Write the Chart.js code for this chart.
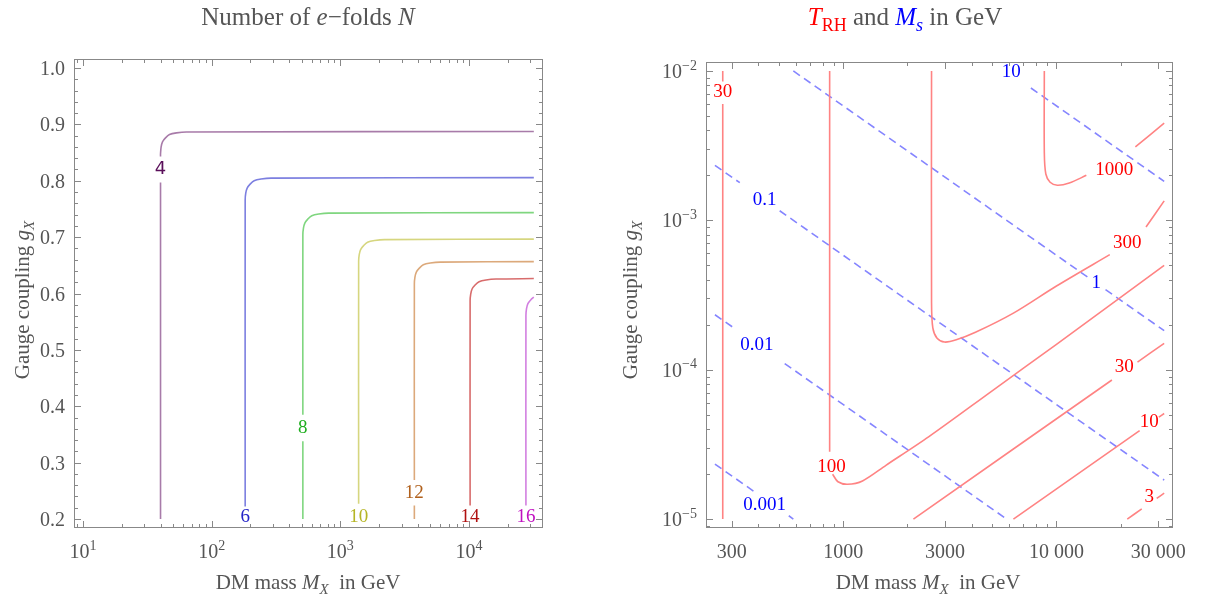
<!DOCTYPE html>
<html>
<head>
<meta charset="utf-8">
<script src="https://cdn.jsdelivr.net/npm/chart.js@4.4.1/dist/chart.umd.min.js"></script>
<style>
    body { margin: 0; background: #fff; width: 1205px; height: 603px; overflow: hidden; position: relative; }
    canvas { position: absolute; top: 0; }
    #leftChart { left: 0; }
    #rightChart { left: 600px; }
</style>
</head>
<body>
<canvas id="leftChart" width="600" height="603"></canvas>
<canvas id="rightChart" width="605" height="603"></canvas>
<script>
// ---- left panel: number of e-folds N (M_X in GeV, g_X) ----
const nLevels = ["4", "6", "8", "10", "12", "14", "16"];
const n4 = [[40, 0.2], [40, 0.797], null, [40, 0.843], [40, 0.848], [40.43, 0.860], [41.44, 0.869], [43.72, 0.876], [46.96, 0.882], [53.2, 0.885], [63.6, 0.8866], [31900, 0.8875]];
const n6 = [[182, 0.222], [182, 0.766], [183.9, 0.778], [188.6, 0.787], [198.9, 0.794], [213.7, 0.800], [242.1, 0.803], [289.2, 0.8046], [31900, 0.8055]];
const n8 = [[511, 0.2], [511, 0.338], null, [511, 0.385], [511, 0.704], [516.5, 0.716], [529.4, 0.725], [558.5, 0.732], [599.9, 0.738], [679.6, 0.741], [812, 0.7426], [31900, 0.7435]];
const n10 = [[1387, 0.227], [1387, 0.657], [1401.8, 0.669], [1437, 0.678], [1516, 0.685], [1628, 0.691], [1845, 0.694], [2204, 0.6956], [31900, 0.6965]];
const n12 = [[3760, 0.2], [3760, 0.224], null, [3760, 0.269], [3760, 0.617], [3800, 0.629], [3895, 0.638], [4110, 0.645], [4414, 0.651], [5001, 0.654], [5975, 0.6556], [31900, 0.6565]];
const n14 = [[10200, 0.224], [10200, 0.587], [10309, 0.599], [10567, 0.608], [11149, 0.615], [11975, 0.621], [13566, 0.624], [16208, 0.6256], [31900, 0.6265]];
const n16 = [[27700, 0.224], [27700, 0.561], [27996, 0.573], [28697, 0.582], [30276, 0.589], [31900, 0.5935]];
const nSeries = [n4, n6, n8, n10, n12, n14, n16];
const nLineColors = ["#a87ba9", "#7c7fe0", "#7fd67f", "#d6d67f", "#dca97b", "#d86c6c", "#d27fe0"];
const nLabelColors = ["#5a0f5a", "#2424c8", "#1fae1f", "#b5b525", "#b0601c", "#b01010", "#c010c0"];
const nLabelPos = [[40, 0.821], [182, 0.203], [511, 0.361], [1387, 0.204], [3760, 0.246], [10200, 0.204], [27700, 0.204]];

const leftXTicks = [10, 100, 1000, 10000];
const leftXTickExp = ["1", "2", "3", "4"];
const leftYTicks = [0.2, 0.3, 0.4, 0.5, 0.6, 0.7, 0.8, 0.9, 1.0];
const leftYTickLabels = ["0.2", "0.3", "0.4", "0.5", "0.6", "0.7", "0.8", "0.9", "1.0"];

// ---- right panel: T_RH (red) and M_s (blue dashed) ----
const tLevels = ["30", "100", "300", "1000", "30", "10", "3"];
const t30a = [[272, 1e-2], [272, 8.5e-3], null, [272, 6.0e-3], [272, 1e-5]];
const t100 = [[863, 1e-2], [863, 2.818e-5], null, [891, 1.995e-5], [944, 1.778e-5], [1047, 1.71e-5], [1230, 1.80e-5], [1585, 2.29e-5], [2512, 3.548e-5], [5012, 7.244e-5], [10000, 1.479e-4], [32000, 5.0e-4]];
const t300 = [[2594, 1e-2], [2594, 2.818e-4], [2630, 1.905e-4], [2754, 1.622e-4], [2985, 1.531e-4], [3388, 1.585e-4], [4169, 1.778e-4], [6310, 2.399e-4], [10000, 3.631e-4], [17783, 5.888e-4], null, [26300, 9.016e-4], [32000, 1.349e-3]];
const t1000 = [[8770, 1e-2], [8770, 2.818e-3], [8913, 2.042e-3], [9333, 1.799e-3], [10093, 1.718e-3], [11482, 1.778e-3], [13804, 2.0e-3], null, [23442, 3.1e-3], [32000, 4.467e-3]];
const t30b = [[2133, 1e-5], [18197, 8.53e-5], null, [23988, 1.125e-4], [32000, 1.5e-4]];
const t10 = [[6281, 1e-5], [24547, 3.908e-5], null, [30200, 4.808e-5], [32000, 5.09e-5]];
const t3 = [[21478, 1e-5], [25119, 1.169e-5], null, [29512, 1.374e-5], [32000, 1.489e-5]];
const tSeries = [t30a, t100, t300, t1000, t30b, t10, t3];
const tLabelPos = [[272, 7.2e-3], [881, 2.23e-5], [21500, 7.03e-4], [18660, 2.16e-3], [20800, 1.04e-4], [27230, 4.45e-5], [27230, 1.41e-5]];

const msLevels = ["10", "1", "0.1", "0.01", "0.001"];
const ms10 = [[7586, 7.69e-3], [32000, 1.824e-3]];
const ms1 = [[583, 1e-2], [14125, 4.13e-4], null, [16982, 3.436e-4], [32000, 1.824e-4]];
const ms01 = [[250, 2.333e-3], [327, 1.786e-3], null, [503, 1.159e-3], [32000, 1.824e-5]];
const ms001 = [[250, 2.333e-4], [310, 1.884e-4], null, [531, 1.099e-4], [5834, 1e-5]];
const ms0001 = [[250, 2.333e-5], [380, 1.535e-5], null, [555, 1.052e-5], [583, 1e-5]];
const msSeries = [ms10, ms1, ms01, ms001, ms0001];
const msLabelPos = [[6140, 9.8e-3], [15380, 3.8e-4], [428, 1.36e-3], [393, 1.46e-4], [428, 1.24e-5]];

const rightXTicks = [300, 1000, 3000, 10000, 30000];
const rightXTickLabels = ["300", "1000", "3000", "10 000", "30 000"];
const rightYTicks = [1e-2, 1e-3, 1e-4, 1e-5];
const rightYTickExp = ["\u22122", "\u22123", "\u22124", "\u22125"];

const SERIF = '"Liberation Serif", "Times New Roman", serif';
const TEXT = "#555";
const FRAME = "#888";

function toPoints(arr) {
    return arr.map(p => p ? { x: p[0], y: p[1] } : { x: NaN, y: NaN });
}

function logMinors(lo, hi) {
    const out = [];
    for (let d = Math.pow(10, Math.floor(Math.log10(lo))); d < hi; d *= 10) {
        for (let k = 1; k < 10; k++) {
            const v = k * d;
            if (v >= lo && v <= hi) out.push(v);
        }
    }
    return out;
}

function drawRich(ctx, parts, x, y, size, align, color) {
    const fontOf = p => (p.i ? "italic " : "") + Math.round(p.sub || p.sup ? size * 0.7 : size) + "px " + SERIF;
    let w = 0;
    parts.forEach(p => { ctx.font = fontOf(p); w += ctx.measureText(p.t).width; });
    let cx = align === "center" ? x - w / 2 : align === "right" ? x - w : x;
    ctx.textAlign = "left";
    ctx.textBaseline = "alphabetic";
    parts.forEach(p => {
        ctx.font = fontOf(p);
        ctx.fillStyle = p.c || color;
        const dy = p.sub ? size * 0.25 : p.sup ? -size * 0.42 : 0;
        ctx.fillText(p.t, cx, y + dy);
        cx += ctx.measureText(p.t).width;
    });
}

function framePlugin(cfg) {
    return {
        id: "frame",
        afterDatasetsDraw(chart) {
            const ctx = chart.ctx;
            const a = chart.chartArea;
            const xs = chart.scales.x, ys = chart.scales.y;
            ctx.save();

            // contour labels
            ctx.textAlign = "center";
            ctx.textBaseline = "middle";
            cfg.labels.forEach(l => {
                ctx.font = (l.font || "19px " + SERIF);
                ctx.fillStyle = l.c;
                ctx.fillText(l.t, xs.getPixelForValue(l.x), ys.getPixelForValue(l.y));
            });

            // frame
            ctx.strokeStyle = FRAME;
            ctx.lineWidth = 1;
            ctx.strokeRect(Math.round(a.left) + 0.5, Math.round(a.top) + 0.5,
                Math.round(a.right - a.left) - 1, Math.round(a.bottom - a.top) - 1);

            // inward ticks on all four sides
            const tick = (v, len, axis) => {
                ctx.beginPath();
                if (axis === "x") {
                    const p = Math.round(xs.getPixelForValue(v)) + 0.5;
                    ctx.moveTo(p, a.bottom); ctx.lineTo(p, a.bottom - len);
                    ctx.moveTo(p, a.top); ctx.lineTo(p, a.top + len);
                } else {
                    const p = Math.round(ys.getPixelForValue(v)) + 0.5;
                    ctx.moveTo(a.left, p); ctx.lineTo(a.left + len, p);
                    ctx.moveTo(a.right, p); ctx.lineTo(a.right - len, p);
                }
                ctx.stroke();
            };
            cfg.xMinor.forEach(v => tick(v, 4, "x"));
            cfg.xMajor.forEach(v => tick(v, 7, "x"));
            cfg.yMinor.forEach(v => tick(v, 4, "y"));
            cfg.yMajor.forEach(v => tick(v, 7, "y"));

            // tick labels
            cfg.xLabels.forEach((parts, i) => {
                drawRich(ctx, parts, xs.getPixelForValue(cfg.xMajor[i]), a.bottom + 30, 20, "center", TEXT);
            });
            cfg.yLabels.forEach((parts, i) => {
                drawRich(ctx, parts, a.left - 9, ys.getPixelForValue(cfg.yMajor[i]) + 7, 20, "right", TEXT);
            });

            // axis titles and plot title
            drawRich(ctx, cfg.xTitle, cfg.xTitlePos[0], cfg.xTitlePos[1], 21, "center", TEXT);
            ctx.save();
            ctx.translate(cfg.yTitlePos[0], cfg.yTitlePos[1]);
            ctx.rotate(-Math.PI / 2);
            drawRich(ctx, cfg.yTitle, 0, 0, 21, "center", TEXT);
            ctx.restore();
            drawRich(ctx, cfg.title, cfg.titlePos[0], cfg.titlePos[1], 25, "center", TEXT);

            ctx.restore();
        }
    };
}

const xTitleParts = [{ t: "DM mass " }, { t: "M", i: 1 }, { t: "X", i: 1, sub: 1 }, { t: "  in GeV" }];
const yTitleParts = [{ t: "Gauge coupling " }, { t: "g", i: 1 }, { t: "X", i: 1, sub: 1 }];

function baseOptions(padding, xRange, yType, yRange) {
    return {
        responsive: false,
        animation: false,
        layout: { padding: padding },
        plugins: { legend: { display: false }, tooltip: { enabled: false }, title: { display: false } },
        elements: { point: { radius: 0 } },
        scales: {
            x: { type: "logarithmic", min: xRange[0], max: xRange[1], display: false },
            y: { type: yType, min: yRange[0], max: yRange[1], display: false }
        }
    };
}

// left chart
new Chart(document.getElementById("leftChart"), {
    type: "scatter",
    data: {
        datasets: nSeries.map((s, i) => ({
            label: "N = " + nLevels[i],
            data: toPoints(s),
            showLine: true,
            borderColor: nLineColors[i],
            borderWidth: 1.6,
            tension: 0.3,
            spanGaps: false,
            pointRadius: 0
        }))
    },
    options: baseOptions({ left: 74, right: 57, top: 59, bottom: 75 }, [8.5, 37600], "linear", [0.184, 1.016]),
    plugins: [framePlugin({
        labels: nLevels.map((t, i) => ({ t: t, x: nLabelPos[i][0], y: nLabelPos[i][1], c: nLabelColors[i], font: i === 0 ? '18px "DejaVu Sans", sans-serif' : null })),
        xMajor: leftXTicks,
        xMinor: logMinors(8.5, 37600),
        yMajor: leftYTicks,
        yMinor: [0.2, 0.22, 0.24, 0.26, 0.28, 0.3, 0.32, 0.34, 0.36, 0.38, 0.4, 0.42, 0.44, 0.46, 0.48, 0.5, 0.52, 0.54, 0.56, 0.58, 0.6, 0.62, 0.64, 0.66, 0.68, 0.7, 0.72, 0.74, 0.76, 0.78, 0.8, 0.82, 0.84, 0.86, 0.88, 0.9, 0.92, 0.94, 0.96, 0.98, 1.0],
        xLabels: leftXTickExp.map(e => [{ t: "10" }, { t: e, sup: 1 }]),
        yLabels: leftYTickLabels.map(t => [{ t: t }]),
        xTitle: xTitleParts,
        xTitlePos: [308, 589],
        yTitle: yTitleParts,
        yTitlePos: [29, 300],
        title: [{ t: "Number of " }, { t: "e", i: 1 }, { t: "\u2212folds " }, { t: "N", i: 1 }],
        titlePos: [308, 25]
    })]
});

// right chart
const redSets = tSeries.map((s, i) => ({
    label: "T_RH = " + tLevels[i],
    data: toPoints(s),
    showLine: true,
    borderColor: "#ff8383",
    borderWidth: 1.6,
    tension: 0.3,
    spanGaps: false,
    pointRadius: 0
}));
const blueSets = msSeries.map((s, i) => ({
    label: "M_s = " + msLevels[i],
    data: toPoints(s),
    showLine: true,
    borderColor: "#8585ff",
    borderWidth: 1.6,
    borderDash: [8, 5],
    tension: 0,
    spanGaps: false,
    pointRadius: 0
}));

new Chart(document.getElementById("rightChart"), {
    type: "scatter",
    data: { datasets: redSets.concat(blueSets) },
    options: baseOptions({ left: 106, right: 32, top: 62, bottom: 75 }, [227, 35200], "logarithmic", [8.71e-6, 1.148e-2]),
    plugins: [framePlugin({
        labels: tLevels.map((t, i) => ({ t: t, x: tLabelPos[i][0], y: tLabelPos[i][1], c: "#ff0000" }))
            .concat(msLevels.map((t, i) => ({ t: t, x: msLabelPos[i][0], y: msLabelPos[i][1], c: "#0000ff" }))),
        xMajor: rightXTicks,
        xMinor: logMinors(227, 35200),
        yMajor: rightYTicks,
        yMinor: logMinors(8.71e-6, 1.148e-2),
        xLabels: rightXTickLabels.map(t => [{ t: t }]),
        yLabels: rightYTickExp.map(e => [{ t: "10" }, { t: e, sup: 1 }]),
        xTitle: xTitleParts,
        xTitlePos: [328, 589],
        yTitle: yTitleParts,
        yTitlePos: [37, 300],
        title: [{ t: "T", i: 1, c: "#ff0000" }, { t: "RH", sub: 1, c: "#ff0000" }, { t: " and " }, { t: "M", i: 1, c: "#0000ff" }, { t: "s", i: 1, sub: 1, c: "#0000ff" }, { t: " in GeV" }],
        titlePos: [305, 25]
    })]
});
</script>
</body>
</html>
